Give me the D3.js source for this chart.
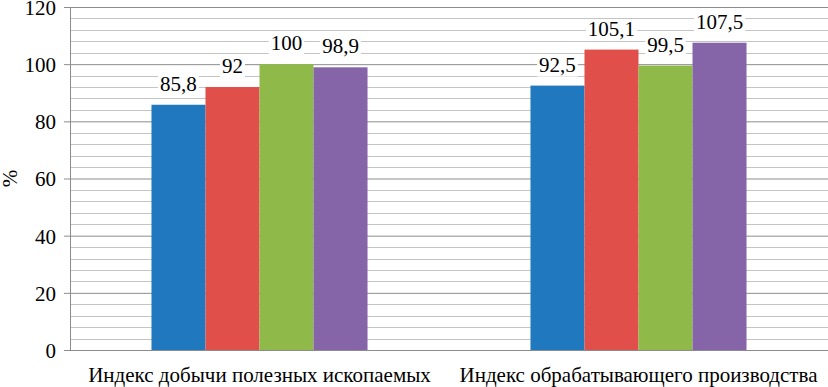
<!DOCTYPE html>
<meta charset="utf-8">
<script src="https://d3js.org/d3.v7.min.js"></script>
<body style="margin:0;background:#fff">
<div id="chart"></div>
<script>
  // данные
  var categories = ["Индекс добычи полезных ископаемых", "Индекс обрабатывающего производства"];
  var series = ["Ряд 1", "Ряд 2", "Ряд 3", "Ряд 4"];
  var values = [
    [85.8, 92, 100, 98.9],
    [92.5, 105.1, 99.5, 107.5]
  ];
  var labels = [
    ["85,8", "92", "100", "98,9"],
    ["92,5", "105,1", "99,5", "107,5"]
  ];
  var yTicks = [0, 20, 40, 60, 80, 100, 120];
  var colors = ["#2079bf", "#e04f4a", "#8fba4a", "#8664a8"];

  var fs = "21px";

  var width = 828, height = 387;
  var margin = {top: 7, right: 0, bottom: 37, left: 70};
  var w = width - margin.left - margin.right;
  var h = height - margin.top - margin.bottom;

  var svg = d3.select("#chart").append("svg")
    .attr("width", width)
    .attr("height", height);

  var g = svg.append("g")
    .attr("transform", "translate(" + margin.left + "," + margin.top + ")");

  var y = d3.scaleLinear().domain([0, 120]).range([h, 0]);
  var x0 = d3.scaleBand().domain(categories).range([0, w]);
  // группа столбцов занимает ~57% категории
  var grp = x0.bandwidth() * 0.57;
  var x1 = d3.scaleBand().domain(series)
    .range([(x0.bandwidth() - grp) / 2, (x0.bandwidth() + grp) / 2]);

  // вспомогательные линии сетки каждые 4
  g.append("g").selectAll("line")
    .data(d3.range(4, 120, 4).filter(function(d) { return d % 20 != 0; }))
    .enter().append("line")
    .attr("x1", 0).attr("x2", w)
    .attr("y1", function(d) { return Math.round(y(d)) + 0.5; })
    .attr("y2", function(d) { return Math.round(y(d)) + 0.5; })
    .attr("stroke", "#c4c4c4");

  // основная ось Y
  var yAxis = d3.axisLeft(y).tickValues(yTicks).tickSize(-w).tickPadding(14)
    .tickFormat(function(d) { return d; });
  var ya = g.append("g").call(yAxis)
    .attr("font-family", null)
    .attr("font-size", null);
  ya.select(".domain").remove();
  ya.selectAll(".tick line")
    .attr("x1", -6)
    .attr("stroke", "#8c8c8c");
  ya.selectAll(".tick text")
    .style("font-size", fs)
    .attr("dy", "0.35em")
    .attr("fill", "#000");

  // вертикальная ось
  g.append("line")
    .attr("x1", 0.5).attr("x2", 0.5)
    .attr("y1", 0).attr("y2", h)
    .attr("stroke", "#8c8c8c");

  // столбцы
  var groups = g.selectAll(".grp")
    .data(categories)
    .enter().append("g")
    .attr("class", "grp")
    .attr("transform", function(d) { return "translate(" + x0(d) + ",0)"; });

  groups.selectAll("rect")
    .data(function(d, i) { return values[i].map(function(v, j) { return {v: v, s: series[j], j: j}; }); })
    .enter().append("rect")
    .attr("x", function(d) { return x1(d.s); })
    .attr("width", x1.bandwidth())
    .attr("y", function(d) { return y(d.v); })
    .attr("height", function(d) { return h - y(d.v); })
    .attr("fill", function(d) { return colors[d.j]; });

  // подписи значений с белым фоном
  var lab = groups.selectAll(".lab")
    .data(function(d, i) { return values[i].map(function(v, j) { return {v: v, s: series[j], t: labels[i][j]}; }); })
    .enter().append("g").attr("class", "lab");
  lab.append("text")
    .attr("x", function(d) { return x1(d.s) + x1.bandwidth() / 2; })
    .attr("y", function(d) { return y(d.v) - 14; })
    .attr("text-anchor", "middle")
    .style("font-size", fs)
    .text(function(d) { return d.t; });
  lab.each(function() {
    var b = d3.select(this).select("text").node().getBBox();
    d3.select(this).insert("rect", "text")
      .attr("x", b.x - 2).attr("y", b.y + 3)
      .attr("width", b.width + 4).attr("height", b.height - 3)
      .attr("fill", "#fff");
  });

  // подписи категорий
  g.selectAll(".cat")
    .data(categories)
    .enter().append("text")
    .attr("class", "cat")
    .attr("x", function(d) { return x0(d) + x0.bandwidth() / 2; })
    .attr("y", h + 32)
    .attr("text-anchor", "middle")
    .style("font-size", fs)
    .text(function(d) { return d; });

  // заголовок оси
  svg.append("text")
    .attr("transform", "translate(17," + (margin.top + h / 2) + ") rotate(-90)")
    .attr("text-anchor", "middle")
    .style("font-size", fs)
    .text("%");
</script>
</body>
